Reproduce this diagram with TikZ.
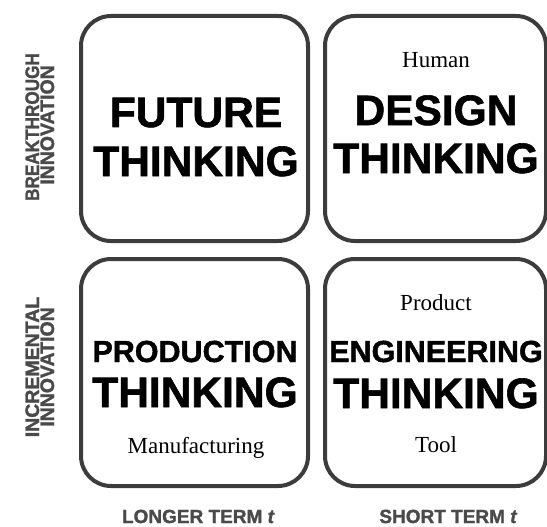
\documentclass[tikz,border=0pt]{standalone}
\usepackage{fontspec}
\setmainfont{Liberation Serif}
\newfontface\heavyf{Liberation Sans Bold}[RawFeature={embolden=1.4}]
\newfontface\heavyitf{Liberation Sans Bold Italic}[RawFeature={embolden=1.5}]
\newfontface\lblf{Liberation Sans Bold}[RawFeature={embolden=1.5}]
\definecolor{boxgray}{HTML}{3C3C3C}
\definecolor{labelgray}{HTML}{4A4A4A}
\begin{document}
\begin{tikzpicture}[x=1pt,y=-1pt,
  box/.style={draw=boxgray, line width=4pt, rounded corners=30pt, inner sep=0, fill=white},
  big/.style={font=\heavyf\fontsize{42.5}{42.5}\selectfont, anchor=base, inner sep=0},
  mid/.style={font=\heavyf\fontsize{30.5}{30.5}\selectfont, anchor=base, inner sep=0},
  serif/.style={font=\fontsize{23}{23}\selectfont, anchor=base, inner sep=0},
  axislbl/.style={font=\lblf\fontsize{19}{19}\selectfont, text=labelgray, anchor=base, inner sep=0},
  sidelbl/.style={font=\lblf\fontsize{19.5}{19.5}\selectfont, text=labelgray, anchor=base, inner sep=0, rotate=90}]
\useasboundingbox (0,0) rectangle (547,527);
\fill[white] (0,0) rectangle (547,527);
% boxes
\node[box, minimum width=227pt, minimum height=225pt] (tl) at (194.5,128.5) {};
\node[box, minimum width=221pt, minimum height=225pt] (tr) at (435.5,128.5) {};
\node[box, minimum width=227pt, minimum height=227pt] (bl) at (194.5,372.5) {};
\node[box, minimum width=221pt, minimum height=227pt] (br) at (435.5,372.5) {};
% top-left
\node[big] (fut) at (196,127) {FUTURE};
\node[big] (futth) at (196,176) {THINKING};
% top-right
\node[serif] (human) at (436,68) {Human};
\node[big] (des) at (436,125) {DESIGN};
\node[big] (desth) at (436,173) {THINKING};
% bottom-left
\node[mid] (prod) at (195,362) {PRODUCTION};
\node[big] (prodth) at (195,407) {THINKING};
\node[serif] (manu) at (196,453) {Manufacturing};
% bottom-right
\node[serif] (product) at (436,310) {Product};
\node[mid] (eng) at (436,362) {ENGINEERING};
\node[big] (ength) at (436,408) {THINKING};
\node[serif] (tool) at (436,452) {Tool};
% side labels
\node[sidelbl] (bt1) at (39,127) {\scalebox{0.88}[1]{BREAKTHROUGH}};
\node[sidelbl] (bt2) at (54,125) {INNOVATION};
\node[sidelbl] (inc1) at (39,367) {INCREMENTAL};
\node[sidelbl] (inc2) at (54,367) {INNOVATION};
% bottom labels
\node[axislbl] (lt) at (198,523) {LONGER TERM {\heavyitf t}};
\node[axislbl] (st) at (448,523) {SHORT TERM {\heavyitf t}};
\end{tikzpicture}
\end{document}
